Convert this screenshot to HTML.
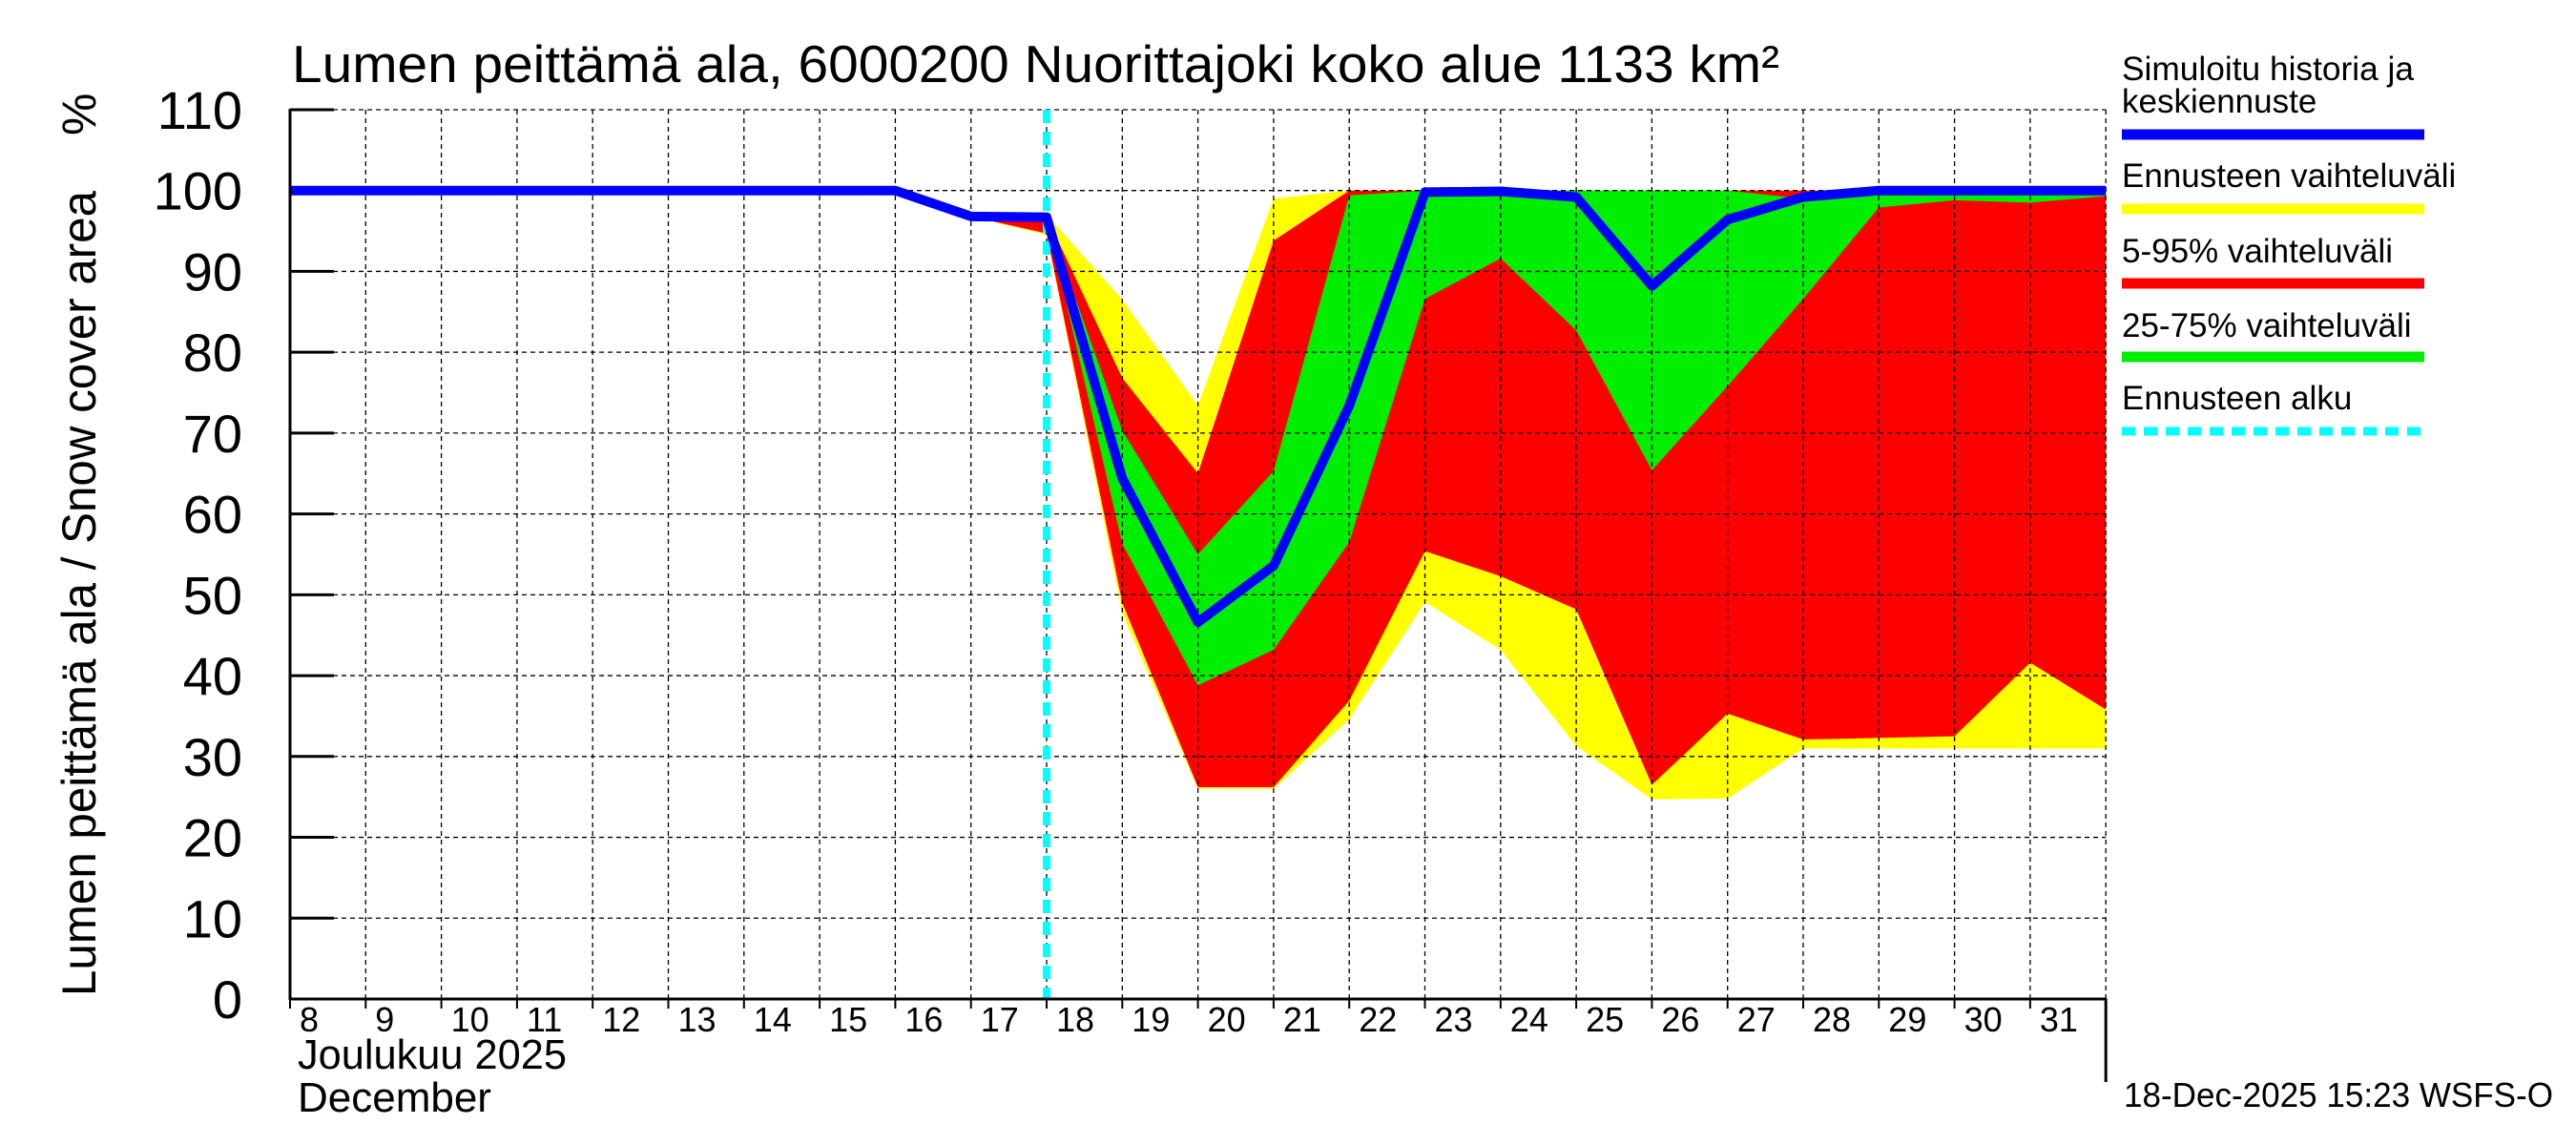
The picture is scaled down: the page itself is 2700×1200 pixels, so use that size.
<!DOCTYPE html>
<html><head><meta charset="utf-8"><style>
html,body{margin:0;padding:0;background:#fff;}
svg{display:block;font-family:"Liberation Sans",sans-serif;}
</style></head><body>
<svg id="chart" width="2700" height="1200" viewBox="0 0 2700 1200">
<rect width="2700" height="1200" fill="#fff"/>
<g id="bands"></g><g id="grid"></g><g id="median"></g><g id="axes"></g>
<text x="306" y="86" font-size="55" textLength="1559" lengthAdjust="spacingAndGlyphs">Lumen peittämä ala, 6000200 Nuorittajoki koko alue 1133 km²</text>
<text transform="translate(100,1044) rotate(-90)" font-size="50" textLength="844" lengthAdjust="spacingAndGlyphs">Lumen peittämä ala / Snow cover area</text>
<text transform="translate(100,142) rotate(-90)" font-size="50">%</text>
<text x="312" y="1120" font-size="44" textLength="282" lengthAdjust="spacingAndGlyphs">Joulukuu  2025</text>
<text x="312" y="1165" font-size="44">December</text>
<text x="2226" y="1160" font-size="36" textLength="450" lengthAdjust="spacingAndGlyphs">18-Dec-2025 15:23 WSFS-O</text>
<g font-size="35">
<text x="2224" y="84" textLength="306" lengthAdjust="spacingAndGlyphs">Simuloitu historia ja</text>
<text x="2224" y="118">keskiennuste</text>
<line x1="2224" y1="141" x2="2541" y2="141" stroke="#0000ff" stroke-width="11"/>
<text x="2224" y="196">Ennusteen vaihteluväli</text>
<line x1="2224" y1="219" x2="2541" y2="219" stroke="#ffff00" stroke-width="11"/>
<text x="2224" y="275">5-95% vaihteluväli</text>
<line x1="2224" y1="297" x2="2541" y2="297" stroke="#ff0000" stroke-width="11"/>
<text x="2224" y="353">25-75% vaihteluväli</text>
<line x1="2224" y1="374" x2="2541" y2="374" stroke="#00ee00" stroke-width="11"/>
<text x="2224" y="429">Ennusteen alku</text>
<line x1="2224" y1="452" x2="2541" y2="452" stroke="#00ffff" stroke-width="9" stroke-dasharray="14,9"/>
</g>
</svg>
<script>
const days = [8,9,10,11,12,13,14,15,16,17,18,19,20,21,22,23,24,25,26,27,28,29,30,31,32];
const median = [100,100,100,100,100,100,100,100,100,96.8,96.7,64.4,46.6,53.6,73.4,99.8,99.9,99.2,88.2,96.4,99.2,100,100,100,100];
const bandDays = [17,18,19,20,21,22,23,24,25,26,27,28,29,30,31,32];
const maxV = [96.8,97,86.5,73.4,99,100,100,100,100,100,100,100,100,100,100,100];
const p95 = [96.8,96.8,76.8,65,93.8,100,100,100,100,100,100,100,100,100,100,100];
const p75 = [96.8,96.7,70.3,55,65.3,99.4,100,100,100,100,100,99,100,100,100,100];
const p25 = [96.8,96.5,56.3,38.8,43.2,56.5,86.6,91.6,82.7,65.4,75.8,86.6,97.9,98.8,98.5,99.3];
const p5 = [96.8,94.7,49,26.2,26.2,36.9,55.4,52.3,48.2,26.5,35.3,32.1,32.3,32.5,41.6,35.8];
const minV = [96.8,94.5,47.7,26,26,34.6,49.1,43.2,31.3,24.7,24.8,31,31,31,31,31];
const yTicks = [0,10,20,30,40,50,60,70,80,90,100,110];
const xTickLabels = [8,9,10,11,12,13,14,15,16,17,18,19,20,21,22,23,24,25,26,27,28,29,30,31];
const forecastStart = 18;

const X0=304, DX=79.3, Y0=1047, PY=8.473;
const xs = d => X0 + (d-8)*DX;
const ys = v => Y0 - v*PY;
const NS='http://www.w3.org/2000/svg';
function mk(tag, parent, attrs){const e=document.createElementNS(NS,tag);for(const k in attrs)e.setAttribute(k,attrs[k]);parent.appendChild(e);return e;}

const bands=document.getElementById('bands');
function band(up, lo, color, name){
  const pts=[];
  bandDays.forEach((d,i)=>pts.push(xs(d)+','+ys(up[i])));
  for(let i=bandDays.length-1;i>=0;i--) pts.push(xs(bandDays[i])+','+ys(lo[i]));
  const p=mk('polygon',bands,{points:pts.join(' '),fill:color});
  
  
}
band(maxV,minV,'#ffff00','band-min-max');
band(p95,p5,'#ff0000','band-5-95');
band(p75,p25,'#00ee00','band-25-75');

const grid=document.getElementById('grid');
yTicks.forEach(v=>{
  const l=mk('line',grid,{x1:X0,x2:xs(32),y1:ys(v),y2:ys(v),stroke:'#000','stroke-width':1.3,'stroke-dasharray':'5,4'});
  
  
  const t=mk('line',grid,{x1:X0,x2:X0+46,y1:ys(v),y2:ys(v),stroke:'#000','stroke-width':3});
  
  
  const tx=mk('text',grid,{x:254,y:ys(v)+20,'font-size':56,'text-anchor':'end'});
  tx.textContent=v;
  
  
});
for(let d=9; d<=32; d++){
  const l=mk('line',grid,{x1:xs(d),x2:xs(d),y1:ys(110),y2:Y0,stroke:'#000','stroke-width':1.3,'stroke-dasharray':'5,4'});
  
  
}
xTickLabels.forEach(d=>{
  const t=mk('line',grid,{x1:xs(d),x2:xs(d),y1:Y0,y2:Y0+10,stroke:'#000','stroke-width':2});
  
  
  const tx=mk('text',grid,{x:xs(d)+10,y:1081,'font-size':36});
  tx.textContent=d;
  
  
});

const med=document.getElementById('median');
const fl=mk('line',med,{x1:xs(forecastStart),x2:xs(forecastStart),y1:ys(110),y2:Y0,stroke:'#00ffff','stroke-width':8,'stroke-dasharray':'14,9'});


const ml=mk('polyline',med,{points:days.map((d,i)=>xs(d)+','+ys(median[i])).join(' '),fill:'none',stroke:'#0000ff','stroke-width':10,'stroke-linejoin':'round'});



const ax=document.getElementById('axes');
const la=mk('line',ax,{x1:X0,x2:X0,y1:ys(110)-1,y2:Y0+1,stroke:'#000','stroke-width':3});


const ba=mk('line',ax,{x1:X0-1,x2:xs(32)+1,y1:Y0,y2:Y0,stroke:'#000','stroke-width':3});


const ra=mk('line',ax,{x1:xs(32),x2:xs(32),y1:Y0,y2:1134,stroke:'#000','stroke-width':3});


</script>
</body></html>
